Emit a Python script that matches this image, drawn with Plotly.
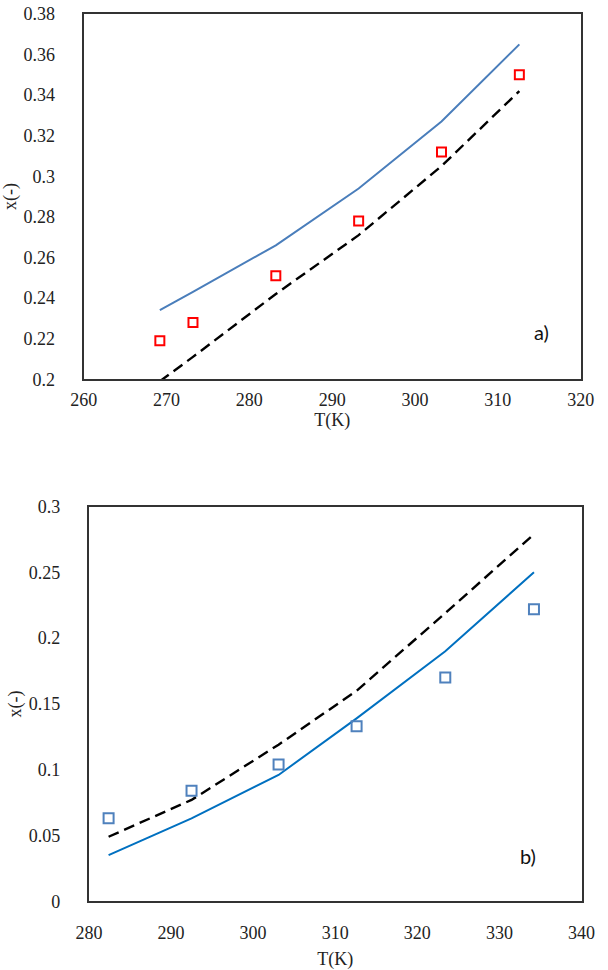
import plotly.graph_objects as go

# ---------------- data: panel a) ----------------
T_a = [269.2, 273.2, 283.2, 293.2, 303.2, 312.6]
exp_a = [0.219, 0.228, 0.251, 0.278, 0.312, 0.350]
T_a_model1 = [269.2, 273.2, 283.2, 293.2, 303.2, 312.6]
model1_a = [0.234, 0.243, 0.266, 0.294, 0.327, 0.365]
T_a_model2 = [269.2, 273.2, 283.2, 293.2, 303.2, 312.6]
model2_a = [0.199, 0.211, 0.242, 0.271, 0.305, 0.342]

# ---------------- data: panel b) ----------------
T_b = [282.4, 292.5, 303.1, 312.6, 323.4, 334.2]
exp_b = [0.063, 0.084, 0.104, 0.133, 0.170, 0.222]
model1_b = [0.035, 0.063, 0.096, 0.139, 0.190, 0.250]
model2_b = [0.049, 0.077, 0.119, 0.160, 0.219, 0.279]

# ---------------- tick labels ----------------
xticks_a = [260, 270, 280, 290, 300, 310, 320]
yticks_a = [0.2, 0.22, 0.24, 0.26, 0.28, 0.3, 0.32, 0.34, 0.36, 0.38]
yticktext_a = ["0.2", "0.22", "0.24", "0.26", "0.28", "0.3", "0.32", "0.34", "0.36", "0.38"]
xticks_b = [280, 290, 300, 310, 320, 330, 340]
yticks_b = [0, 0.05, 0.1, 0.15, 0.2, 0.25, 0.3]
yticktext_b = ["0", "0.05", "0.1", "0.15", "0.2", "0.25", "0.3"]

W, H = 608, 970
SERIF = "Liberation Serif"
DASH = "11px,6px"

fig = go.Figure()

# panel a
fig.add_trace(go.Scatter(x=T_a_model1, y=model1_a, mode="lines",
                         line=dict(color="#4A7EBB", width=2), xaxis="x", yaxis="y",
                         showlegend=False))
fig.add_trace(go.Scatter(x=T_a_model2, y=model2_a, mode="lines",
                         line=dict(color="#000000", width=2.4, dash=DASH), xaxis="x", yaxis="y",
                         showlegend=False))
fig.add_trace(go.Scatter(x=T_a, y=exp_a, mode="markers",
                         marker=dict(symbol="square-open", size=9, color="#FF0000",
                                     line=dict(width=2, color="#FF0000")),
                         xaxis="x", yaxis="y", showlegend=False))

# panel b
fig.add_trace(go.Scatter(x=T_b, y=model1_b, mode="lines",
                         line=dict(color="#0070C0", width=2), xaxis="x2", yaxis="y2",
                         showlegend=False))
fig.add_trace(go.Scatter(x=T_b, y=model2_b, mode="lines",
                         line=dict(color="#000000", width=2.4, dash=DASH), xaxis="x2", yaxis="y2",
                         showlegend=False))
fig.add_trace(go.Scatter(x=T_b, y=exp_b, mode="markers",
                         marker=dict(symbol="square-open", size=10, color="#4F81BD",
                                     line=dict(width=2, color="#4F81BD")),
                         xaxis="x2", yaxis="y2", showlegend=False))


def tf(size=18):
    return dict(family=SERIF, size=size, color="#222222")


common = dict(showgrid=False, zeroline=False, showline=True, mirror=True,
              linecolor="#333333", linewidth=2, ticks="")

fig.update_layout(
    width=W, height=H,
    margin=dict(l=0, r=0, t=0, b=0),
    font=dict(family=SERIF, size=18, color="#222222"),
    paper_bgcolor="white", plot_bgcolor="white",
    xaxis=dict(domain=[73 / W, 594 / W], anchor="y", range=[260, 320],
               tickvals=xticks_a, ticklabelstandoff=3, tickfont=tf(),
               title=dict(text="T(K)", font=tf(), standoff=1), **common),
    yaxis=dict(domain=[1 - 377 / H, 1 - 4 / H], anchor="x", range=[0.2, 0.38],
               tickvals=yticks_a, ticktext=yticktext_a, ticklabelstandoff=23, tickfont=tf(),
               title=dict(text="x(-)", font=tf(), standoff=2), **common),
    xaxis2=dict(domain=[78.5 / W, 595 / W], anchor="y2", range=[280, 340],
                tickvals=xticks_b, ticklabelstandoff=14, tickfont=tf(),
                title=dict(text="T(K)", font=tf(), standoff=12), **common),
    yaxis2=dict(domain=[1 - 910 / H, 1 - 507 / H], anchor="x2", range=[0, 0.3],
                tickvals=yticks_b, ticktext=yticktext_b, ticklabelstandoff=23, tickfont=tf(),
                title=dict(text="x(-)", font=tf(), standoff=2), **common),
    annotations=[
        dict(text="a)", x=315.3, y=0.2235, xref="x", yref="y", showarrow=False,
             font=dict(family="Lato, Open Sans, sans-serif", size=20, color="#111111")),
        dict(text="b)", x=333.5, y=0.0345, xref="x2", yref="y2", showarrow=False,
             font=dict(family="Lato, Open Sans, sans-serif", size=20, color="#111111")),
    ],
)

fig.write_html("out.html")
